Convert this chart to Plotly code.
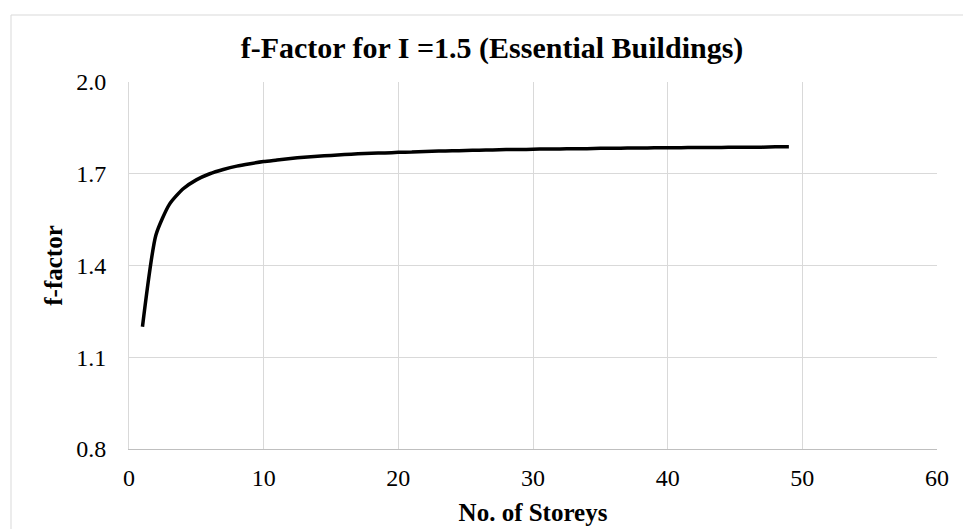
import plotly.graph_objects as go

storeys = list(range(1, 50))
f_factor = [1.200, 1.500, 1.600, 1.650, 1.680, 1.700, 1.714, 1.725, 1.733, 1.740,
            1.745, 1.750, 1.754, 1.757, 1.760, 1.763, 1.765, 1.767, 1.768, 1.770,
            1.771, 1.773, 1.774, 1.775, 1.776, 1.777, 1.778, 1.779, 1.779, 1.780,
            1.781, 1.781, 1.782, 1.782, 1.783, 1.783, 1.784, 1.784, 1.785, 1.785,
            1.785, 1.786, 1.786, 1.786, 1.787, 1.787, 1.787, 1.788, 1.788]
x_ticks = [0, 10, 20, 30, 40, 50, 60]
y_ticks = [0.8, 1.1, 1.4, 1.7, 2.0]
y_tick_labels = ["0.8", "1.1", "1.4", "1.7", "2.0"]

FONT = "Liberation Serif, Times New Roman, serif"

fig = go.Figure()
fig.add_trace(go.Scatter(
    x=storeys, y=f_factor, mode="lines",
    line=dict(color="black", width=3.5, shape="spline", smoothing=0.6),
    showlegend=False, hoverinfo="x+y"))

W, H = 971, 529
L, R, T, B = 121, 42, 74, 88
pw, ph = W - L - R, H - T - B

fig.update_layout(
    width=W, height=H,
    margin=dict(l=L, r=R, t=T, b=B),
    paper_bgcolor="white", plot_bgcolor="white",
    font=dict(family=FONT, color="black", size=24),
    title=dict(text="<b>f-Factor for I =1.5 (Essential Buildings)</b>",
               x=484 / W, xanchor="center", y=1 - 39 / H, yanchor="middle",
               font=dict(family=FONT, size=30, color="black")),
    xaxis=dict(range=[0, 60], tickvals=x_ticks, showgrid=True,
               gridcolor="#d9d9d9", gridwidth=1, zeroline=False,
               showline=True, linecolor="#bfbfbf", linewidth=1,
               ticks="", ticklabelstandoff=7,
               tickfont=dict(family=FONT, size=24, color="black"),
               title=dict(text="<b>No. of Storeys</b>", standoff=13,
                          font=dict(family=FONT, size=25, color="black"))),
    yaxis=dict(range=[0.8, 2.0], tickvals=y_ticks, ticktext=y_tick_labels,
               showgrid=True, gridcolor="#d9d9d9", gridwidth=1, zeroline=False,
               showline=True, linecolor="#d9d9d9", linewidth=1, mirror=False,
               ticks="", ticklabelstandoff=17,
               tickfont=dict(family=FONT, size=24, color="black"),
               title=dict(text="<b>f-factor</b>", standoff=6,
                          font=dict(family=FONT, size=25, color="black"))),
)

# outer chart border
fig.add_shape(type="rect", xref="paper", yref="paper",
              x0=(3 - L) / pw, x1=(W + 20 - L) / pw,
              y0=-(H + 20 - T - ph) / ph, y1=1 + (T - 7) / ph,
              line=dict(color="#d9d9d9", width=1), fillcolor="rgba(0,0,0,0)",
              layer="below")

fig.write_html("out.html")
